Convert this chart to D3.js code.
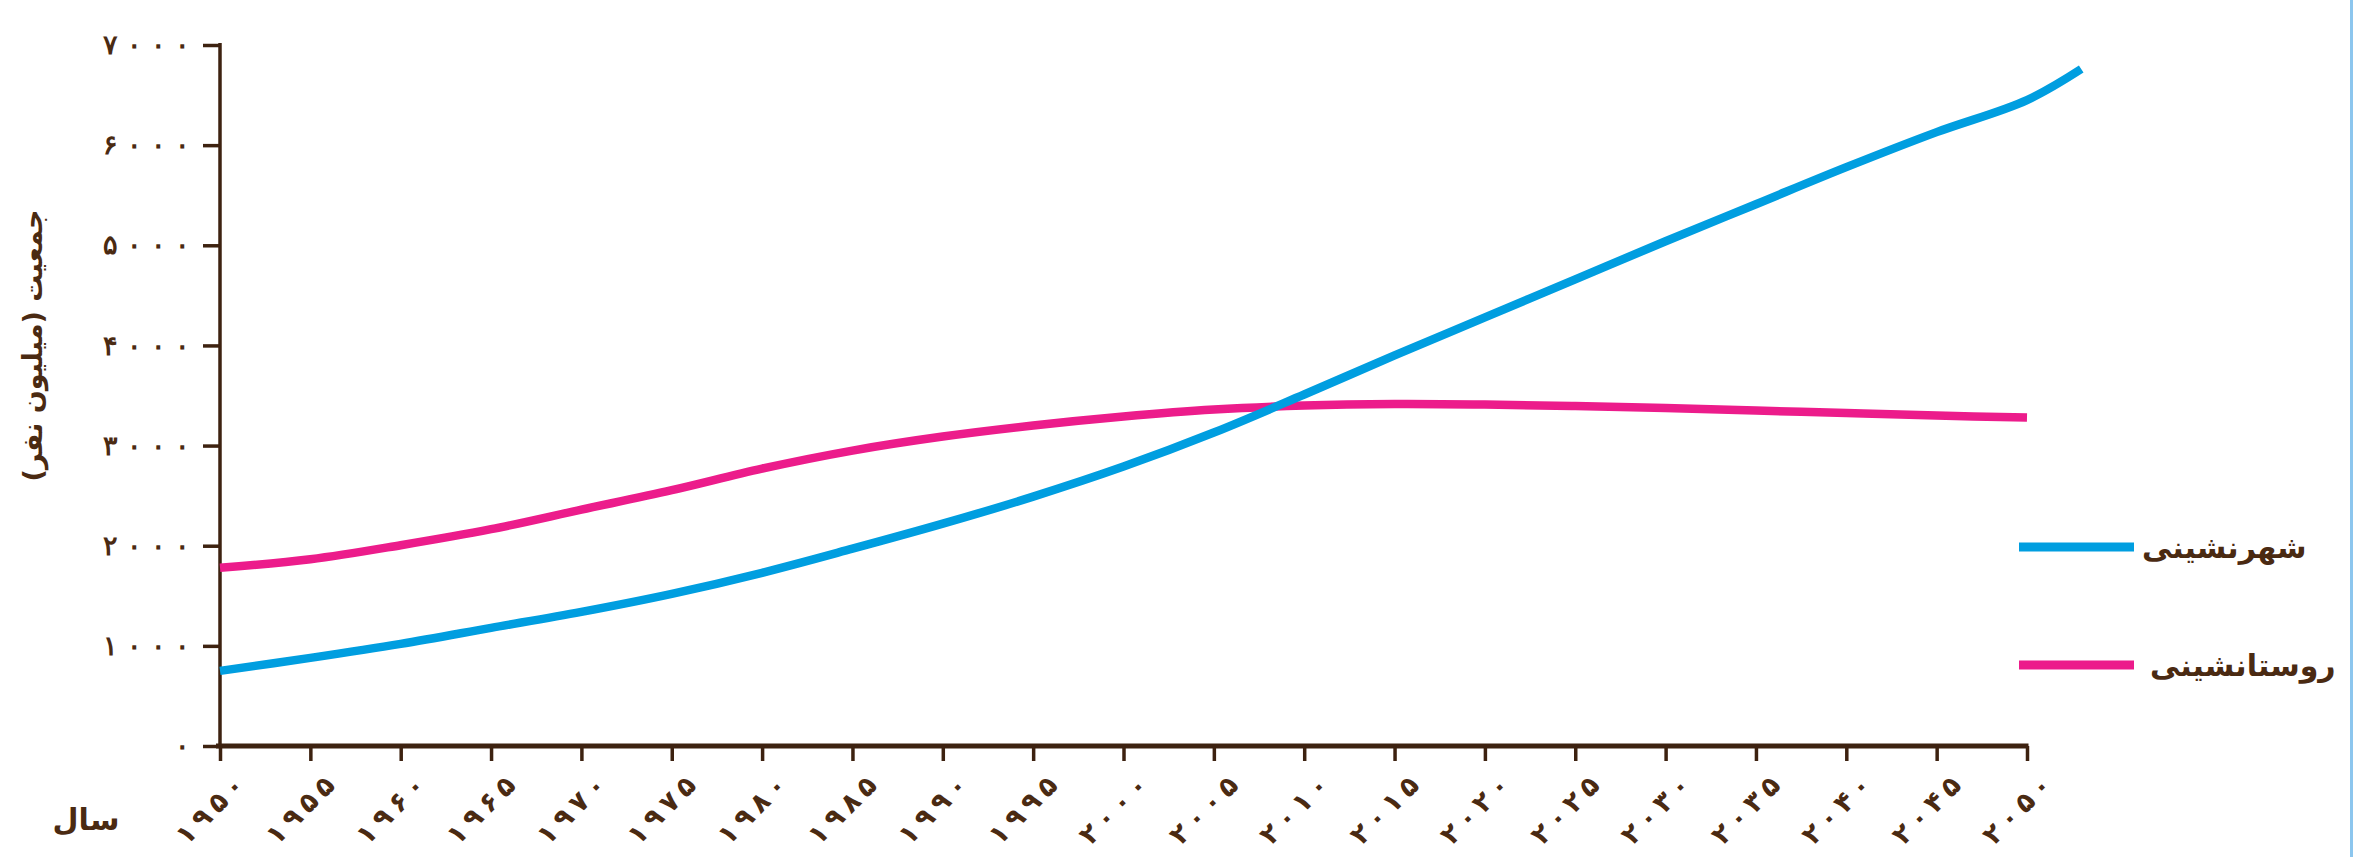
<!DOCTYPE html>
<html>
<head>
<meta charset="utf-8">
<script src="https://cdn.jsdelivr.net/npm/d3@7"></script>
<style>
  html, body { margin: 0; padding: 0; background: #fff; }
  #chart { width: 2353px; height: 857px; }
</style>
</head>
<body>
<div id="chart"></div>
<script>
// data (million people)
const years = [1950, 1955, 1960, 1965, 1970, 1975, 1980, 1985, 1990, 1995, 2000,
               2005, 2010, 2015, 2020, 2025, 2030, 2035, 2040, 2045, 2050];
const urbanYears = years.concat([2053]);
const urban = [750, 880, 1020, 1180, 1340, 1520, 1730, 1970, 2220, 2490, 2790,
               3130, 3510, 3900, 4280, 4660, 5040, 5410, 5780, 6130, 6450, 6760];
const rural = [1780, 1865, 2005, 2165, 2360, 2555, 2770, 2950, 3090, 3200, 3290,
               3360, 3400, 3415, 3410, 3395, 3375, 3350, 3325, 3300, 3280];
const yTicks = [0, 1000, 2000, 3000, 4000, 5000, 6000, 7000];
const xTicks = [1950, 1955, 1960, 1965, 1970, 1975, 1980, 1985, 1990, 1995, 2000,
                2005, 2010, 2015, 2020, 2025, 2030, 2035, 2040, 2045, 2050];
const seriesNames = ['شهرنشینی', 'روستانشینی'];
const yTitle = 'جمعیت (میلیون نفر)';
const xTitle = 'سال';

const brown = '#3d2210';
const textBrown = '#4a2a12';
const blue = '#009ee0';
const pink = '#ec1c8b';

const fa = n => String(n).replace(/\d/g, c => '۰۱۲۳۴۵۶۷۸۹'[c]);

// letter-spacing is ignored for Arabic-script digits, so space them by hand
function spacedDigits(sel, gap) {
  sel.text('').each(function(d) {
    const t = d3.select(this);
    fa(d).split('').forEach((c, i) => {
      t.append('tspan').attr('dx', i ? gap : 0).text(c);
    });
  });
}

const width = 2353, height = 857;
const svg = d3.select('#chart').append('svg')
  .attr('width', width)
  .attr('height', height)
  .style('font-family', '"DejaVu Sans", sans-serif');

const x = d3.scaleLinear().domain([1950, 2050]).range([220, 2027]);
const y = d3.scaleLinear().domain([0, 7000]).range([746, 45]);

// y axis
const yAxis = svg.append('g')
  .attr('transform', `translate(${x(1950)},0)`)
  .call(d3.axisLeft(y).tickValues(yTicks).tickSize(17).tickSizeOuter(0).tickPadding(13));
yAxis.select('.domain').attr('stroke', brown).attr('stroke-width', 3.5)
  .attr('d', `M0,${y(7000) - 2}V${y(0)}`);
yAxis.selectAll('.tick line').attr('stroke', brown).attr('stroke-width', 3.5);
yAxis.selectAll('.tick text')
  .attr('fill', textBrown)
  .style('font-size', '27px')
  .style('font-weight', 'bold')
  .call(spacedDigits, 9);

// x axis
const xAxis = svg.append('g')
  .attr('transform', `translate(0,${y(0)})`)
  .call(d3.axisBottom(x).tickValues(xTicks).tickSize(15).tickSizeOuter(0).tickFormat(''));
xAxis.select('.domain').attr('stroke', brown).attr('stroke-width', 5)
  .attr('d', `M${x(1950) - 4},0H${x(2050) + 1.5}`);
xAxis.selectAll('.tick line').attr('stroke', brown).attr('stroke-width', 3.5);

svg.append('g')
  .selectAll('text')
  .data(xTicks)
  .join('text')
    .attr('transform', d => `translate(${x(d) + 26},${y(0) + 41}) rotate(-45)`)
    .attr('text-anchor', 'end')
    .attr('fill', textBrown)
    .style('font-size', '27px')
    .style('font-weight', 'bold')
    .call(spacedDigits, 6);

// axis titles
svg.append('text')
  .attr('transform', `translate(42,${(y(2400) + y(5600)) / 2}) rotate(-90)`)
  .attr('text-anchor', 'middle')
  .attr('fill', textBrown)
  .style('font-size', '27px')
  .style('font-weight', 'bold')
  .text(yTitle);

svg.append('text')
  .attr('x', 86)
  .attr('y', 830)
  .attr('text-anchor', 'middle')
  .attr('fill', textBrown)
  .style('font-size', '30px')
  .style('font-weight', 'bold')
  .text(xTitle);

// lines
const line = d3.line()
  .x(d => x(d[0]))
  .y(d => y(d[1]))
  .curve(d3.curveCatmullRom);

svg.append('path')
  .datum(years.map((yr, i) => [yr, rural[i]]))
  .attr('fill', 'none')
  .attr('stroke', pink)
  .attr('stroke-width', 8.5)
  .attr('d', line);

svg.append('path')
  .datum(urbanYears.map((yr, i) => [yr, urban[i]]))
  .attr('fill', 'none')
  .attr('stroke', blue)
  .attr('stroke-width', 8.5)
  .attr('d', line);

// legend
const legend = svg.append('g')
  .selectAll('g')
  .data(seriesNames)
  .join('g')
    .attr('transform', (d, i) => `translate(2019,${547 + i * 118})`);

legend.append('line')
  .attr('x1', 0).attr('x2', 115)
  .attr('stroke', (d, i) => i === 0 ? blue : pink)
  .attr('stroke-width', 9);

legend.append('text')
  .attr('x', (d, i) => i === 0 ? 123 : 131)
  .attr('y', 11)
  .attr('fill', textBrown)
  .style('font-size', '30px')
  .style('font-weight', 'bold')
  .text(d => d);

// thin frame line at the right edge
svg.append('line')
  .attr('x1', width - 1.5).attr('x2', width - 1.5)
  .attr('y1', 0).attr('y2', height)
  .attr('stroke', '#8cc6ee')
  .attr('stroke-width', 3);
</script>
</body>
</html>
